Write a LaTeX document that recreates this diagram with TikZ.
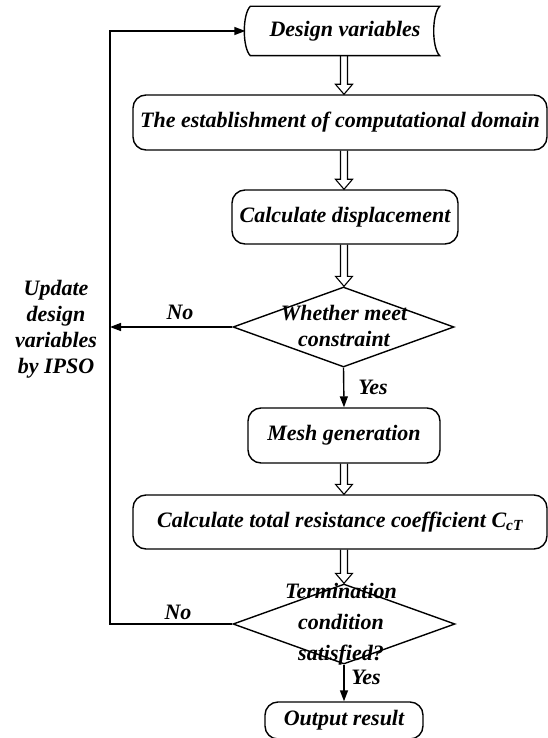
\documentclass[tikz,border=0pt]{standalone}
\usepackage{fontspec}
\setmainfont{Liberation Serif}
\usetikzlibrary{shapes.geometric,arrows.meta,calc}
\tikzset{
  txt/.style={font=\fontsize{22}{26}\selectfont\bfseries\itshape},
  proc/.style={txt, draw, rounded corners=13pt, inner sep=0pt, align=center},
  dia/.style={diamond, draw, inner sep=0pt},
  lbl/.style={txt, align=center, inner sep=0pt},
  arr/.style={-{Triangle[length=11pt,width=8pt]}},
}
\newcommand{\hollowarr}[2]{%
  \draw[line width=1.1pt] let \p1=(#1.south), \p2=(#2.north) in
   (340.5pt,\y1) -- (340.5pt,\y2+10pt) -- (335.5pt,\y2+10pt) -- (344pt,\y2)
   -- (352.5pt,\y2+10pt) -- (347.5pt,\y2+10pt) -- (347.5pt,\y1);}
\begin{document}
\begin{tikzpicture}[x=1pt,y=-1pt,line width=1.4pt]
\useasboundingbox (0,0) rectangle (548,738);
% design variables (stored data shape)
\node[txt, minimum width=188pt, minimum height=48pt, inner sep=0pt] (dv) at (345,31) {Design variables};
\draw (dv.north west) .. controls ([xshift=-8pt,yshift=-8pt]dv.north west) and ([xshift=-8pt,yshift=8pt]dv.south west) .. (dv.south west)
  -- (dv.south east) .. controls ([xshift=-8pt,yshift=8pt]dv.south east) and ([xshift=-8pt,yshift=-8pt]dv.north east) .. (dv.north east) -- cycle;
\node[proc, minimum width=414pt, minimum height=55pt] (est) at (340,122.5) {The establishment of computational domain};
\node[proc, minimum width=226pt, minimum height=54pt] (disp) at (345,217) {Calculate displacement};
\node[dia, minimum width=221pt, minimum height=80pt] (d1) at (343.5,327) {};
\node[lbl] (d1t) at (344,326) {Whether meet\\constraint};
\node[proc, minimum width=192pt, minimum height=55pt] (mesh) at (344,435.5) {Mesh generation};
\node[proc, minimum width=414pt, minimum height=54pt] (ctot) at (340,522) {Calculate total resistance coefficient C\textsubscript{cT}};
\node[dia, minimum width=222pt, minimum height=80pt] (d2) at (344,624) {};
\node[lbl, font=\fontsize{22}{31}\selectfont\bfseries\itshape] (d2t) at (341,624) {Termination\\condition\\satisfied?};
\node[proc, minimum width=158pt, minimum height=37pt] (out) at (344,720.5) {Output result};
% hollow arrows
\hollowarr{dv}{est}
\hollowarr{est}{disp}
\hollowarr{disp}{d1}
\hollowarr{mesh}{ctot}
\hollowarr{ctot}{d2}
% yes arrows
\draw[arr] (d1.south) -- (mesh.north);
\node[lbl] (yes1) at (373,387) {Yes};
\draw[arr] (d2.south) -- (out.north);
\node[lbl] (yes2) at (366,677) {Yes};
% feedback loop
\coordinate (tl) at (110,31);
\coordinate (ml) at (110,327);
\coordinate (bl) at (110,624);
\draw[arr] (d1.west) -- (ml);
\node[lbl] (no1) at (180,312) {No};
\draw[arr] (d2.west) -- (bl) -- (tl) -- ([xshift=-5pt]dv.west);
\node[lbl] (no2) at (178,612) {No};
\node[lbl] (upd) at (56,329) {Update\\design\\variables\\by IPSO};
\end{tikzpicture}
\end{document}
